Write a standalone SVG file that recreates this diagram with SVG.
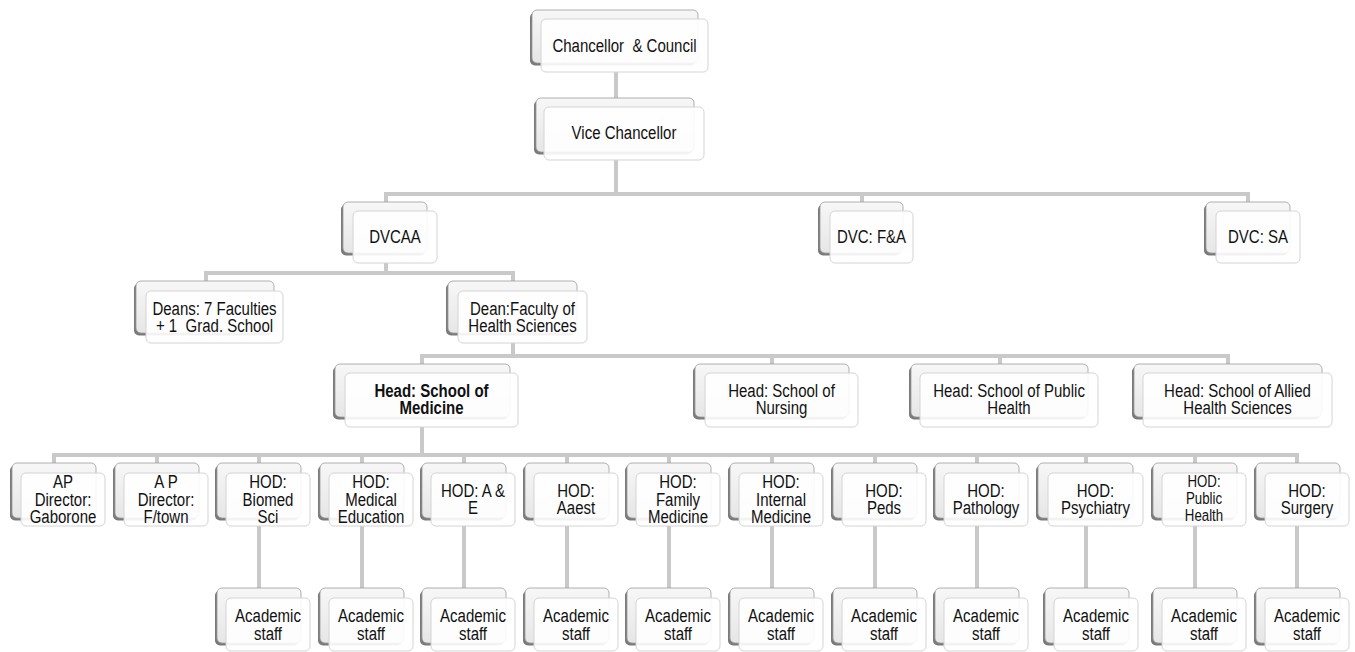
<svg xmlns="http://www.w3.org/2000/svg" width="1355" height="652" viewBox="0 0 1355 652">
<style>
.sh{fill:#7a7a7a}
.bk{fill:url(#gb);stroke:#9c9c9c;stroke-width:0.8}
.fr{fill:#ffffff;fill-opacity:0.9;stroke:#d4d4d4;stroke-width:1}
.t{font-family:"Liberation Sans",Arial,sans-serif;font-size:19px;fill:#111111;text-anchor:middle}
.b{font-weight:bold}
.s{font-size:17px}
.c{fill:none;stroke:#c9c9c9;stroke-width:4;stroke-linejoin:miter}
</style>
<defs>
<linearGradient id="gb" x1="0" y1="0" x2="0" y2="1">
<stop offset="0" stop-color="#f7f7f7"/>
<stop offset="1" stop-color="#e6e6e6"/>
</linearGradient>
</defs>
<rect width="1355" height="652" fill="#ffffff"/>
<g id="connectors">
<path class="c" d="M616,72 V98"/>
<path class="c" d="M616,160 V194"/>
<path class="c" d="M386,202 V194 H1248 V202"/>
<path class="c" d="M862,194 V202"/>
<path class="c" d="M386,263 V273"/>
<path class="c" d="M206,281 V273 H513 V281"/>
<path class="c" d="M513,343 V356"/>
<path class="c" d="M422,364 V356 H1228 V364"/>
<path class="c" d="M772,356 V364"/>
<path class="c" d="M1000,356 V364"/>
<path class="c" d="M422,427 V455"/>
<path class="c" d="M54,463 V455 H1297 V463"/>
<path class="c" d="M157,455 V463 M259,455 V463 M362,455 V463 M464,455 V463 M567,455 V463 M669,455 V463 M772,455 V463 M875,455 V463 M977,455 V463 M1086,455 V463 M1195,455 V463"/>
<path class="c" d="M259,526 V588 M362,526 V588 M464,526 V588 M567,526 V588 M669,526 V588 M772,526 V588 M875,526 V588 M977,526 V588 M1086,526 V588 M1195,526 V588 M1297,526 V588"/>
</g>
<g id="n-chancellor">
<rect class="sh" x="530" y="12.5" width="166" height="53" rx="5"/>
<rect class="bk" x="532" y="10" width="166" height="53" rx="5"/>
<rect class="fr" x="541" y="19" width="167" height="53" rx="5"/>
<text class="t" transform="translate(624.5,0) scale(0.79,1)"><tspan x="0" y="52">Chancellor&#160; &amp; Council</tspan></text>
</g>
<g id="n-vice">
<rect class="sh" x="534" y="100.5" width="158" height="54" rx="5"/>
<rect class="bk" x="536" y="98" width="158" height="54" rx="5"/>
<rect class="fr" x="544" y="107" width="160" height="53" rx="5"/>
<text class="t" transform="translate(624,0) scale(0.79,1)"><tspan x="0" y="139">Vice Chancellor</tspan></text>
</g>
<g id="n-dvcaa">
<rect class="sh" x="341" y="204.5" width="84" height="51" rx="5"/>
<rect class="bk" x="343" y="202" width="84" height="51" rx="5"/>
<rect class="fr" x="353" y="211" width="84" height="52" rx="5"/>
<text class="t" transform="translate(395,0) scale(0.79,1)"><tspan x="0" y="243.5">DVCAA</tspan></text>
</g>
<g id="n-dvcfa">
<rect class="sh" x="818" y="204.5" width="83" height="51" rx="5"/>
<rect class="bk" x="820" y="202" width="83" height="51" rx="5"/>
<rect class="fr" x="830" y="211" width="83" height="52" rx="5"/>
<text class="t" transform="translate(871.5,0) scale(0.79,1)"><tspan x="0" y="243.5">DVC: F&amp;A</tspan></text>
</g>
<g id="n-dvcsa">
<rect class="sh" x="1204" y="204.5" width="84" height="51" rx="5"/>
<rect class="bk" x="1206" y="202" width="84" height="51" rx="5"/>
<rect class="fr" x="1216" y="211" width="84" height="52" rx="5"/>
<text class="t" transform="translate(1258,0) scale(0.79,1)"><tspan x="0" y="243.5">DVC: SA</tspan></text>
</g>
<g id="n-deans">
<rect class="sh" x="134" y="283.5" width="138" height="52" rx="5"/>
<rect class="bk" x="136" y="281" width="138" height="52" rx="5"/>
<rect class="fr" x="146" y="291" width="137" height="52" rx="5"/>
<text class="t" transform="translate(214.5,0) scale(0.79,1)"><tspan x="0" y="315">Deans: 7 Faculties</tspan><tspan x="0" y="332">+ 1&#160; Grad. School</tspan></text>
</g>
<g id="n-deanfhs">
<rect class="sh" x="446" y="283.5" width="129" height="52" rx="5"/>
<rect class="bk" x="448" y="281" width="129" height="52" rx="5"/>
<rect class="fr" x="458" y="291" width="129" height="52" rx="5"/>
<text class="t" transform="translate(522.5,0) scale(0.79,1)"><tspan x="0" y="315">Dean:Faculty of</tspan><tspan x="0" y="332">Health Sciences</tspan></text>
</g>
<g id="n-medicine">
<rect class="sh" x="333" y="366.5" width="175" height="53" rx="5"/>
<rect class="bk" x="335" y="364" width="175" height="53" rx="5"/>
<rect class="fr" x="345" y="373" width="173" height="54" rx="5"/>
<text class="t b" transform="translate(431.5,0) scale(0.79,1)"><tspan x="0" y="397">Head: School of</tspan><tspan x="0" y="414.5">Medicine</tspan></text>
</g>
<g id="n-nursing">
<rect class="sh" x="693" y="366.5" width="154" height="53" rx="5"/>
<rect class="bk" x="695" y="364" width="154" height="53" rx="5"/>
<rect class="fr" x="705" y="373" width="153" height="54" rx="5"/>
<text class="t" transform="translate(781.5,0) scale(0.79,1)"><tspan x="0" y="397">Head: School of</tspan><tspan x="0" y="414.5">Nursing</tspan></text>
</g>
<g id="n-publichealth">
<rect class="sh" x="909" y="366.5" width="177" height="53" rx="5"/>
<rect class="bk" x="911" y="364" width="177" height="53" rx="5"/>
<rect class="fr" x="920" y="373" width="178" height="54" rx="5"/>
<text class="t" transform="translate(1009,0) scale(0.79,1)"><tspan x="0" y="397">Head: School of Public</tspan><tspan x="0" y="414.5">Health</tspan></text>
</g>
<g id="n-allied">
<rect class="sh" x="1132" y="366.5" width="188" height="53" rx="5"/>
<rect class="bk" x="1134" y="364" width="188" height="53" rx="5"/>
<rect class="fr" x="1143" y="373" width="189" height="54" rx="5"/>
<text class="t" transform="translate(1237.5,0) scale(0.79,1)"><tspan x="0" y="397">Head: School of Allied</tspan><tspan x="0" y="414.5">Health Sciences</tspan></text>
</g>
<g id="h-gaborone">
<rect class="sh" x="10" y="465.5" width="84" height="55" rx="5"/>
<rect class="bk" x="12" y="463" width="84" height="55" rx="5"/>
<rect class="fr" x="21" y="473" width="84" height="53" rx="5"/>
<text class="t" transform="translate(63,0) scale(0.79,1)"><tspan x="0" y="488">AP</tspan><tspan x="0" y="506">Director:</tspan><tspan x="0" y="523.5">Gaborone</tspan></text>
</g>
<g id="h-ftown">
<rect class="sh" x="113" y="465.5" width="84" height="55" rx="5"/>
<rect class="bk" x="115" y="463" width="84" height="55" rx="5"/>
<rect class="fr" x="124" y="473" width="84" height="53" rx="5"/>
<text class="t" transform="translate(166,0) scale(0.79,1)"><tspan x="0" y="488">A P</tspan><tspan x="0" y="506">Director:</tspan><tspan x="0" y="523.5">F/town</tspan></text>
</g>
<g id="h-biomed">
<rect class="sh" x="215" y="465.5" width="84" height="55" rx="5"/>
<rect class="bk" x="217" y="463" width="84" height="55" rx="5"/>
<rect class="fr" x="226" y="473" width="84" height="53" rx="5"/>
<text class="t" transform="translate(268,0) scale(0.79,1)"><tspan x="0" y="488">HOD:</tspan><tspan x="0" y="506">Biomed</tspan><tspan x="0" y="523.5">Sci</tspan></text>
</g>
<g id="h-mededu">
<rect class="sh" x="318" y="465.5" width="84" height="55" rx="5"/>
<rect class="bk" x="320" y="463" width="84" height="55" rx="5"/>
<rect class="fr" x="329" y="473" width="84" height="53" rx="5"/>
<text class="t" transform="translate(371,0) scale(0.79,1)"><tspan x="0" y="488">HOD:</tspan><tspan x="0" y="506">Medical</tspan><tspan x="0" y="523.5">Education</tspan></text>
</g>
<g id="h-ae">
<rect class="sh" x="420" y="465.5" width="84" height="55" rx="5"/>
<rect class="bk" x="422" y="463" width="84" height="55" rx="5"/>
<rect class="fr" x="431" y="473" width="84" height="53" rx="5"/>
<text class="t" transform="translate(473,0) scale(0.79,1)"><tspan x="0" y="497">HOD: A &amp;</tspan><tspan x="0" y="514.5">E</tspan></text>
</g>
<g id="h-aaest">
<rect class="sh" x="523" y="465.5" width="84" height="55" rx="5"/>
<rect class="bk" x="525" y="463" width="84" height="55" rx="5"/>
<rect class="fr" x="534" y="473" width="84" height="53" rx="5"/>
<text class="t" transform="translate(576,0) scale(0.79,1)"><tspan x="0" y="497">HOD:</tspan><tspan x="0" y="514.5">Aaest</tspan></text>
</g>
<g id="h-family">
<rect class="sh" x="625" y="465.5" width="84" height="55" rx="5"/>
<rect class="bk" x="627" y="463" width="84" height="55" rx="5"/>
<rect class="fr" x="636" y="473" width="84" height="53" rx="5"/>
<text class="t" transform="translate(678,0) scale(0.79,1)"><tspan x="0" y="488">HOD:</tspan><tspan x="0" y="506">Family</tspan><tspan x="0" y="523.5">Medicine</tspan></text>
</g>
<g id="h-internal">
<rect class="sh" x="728" y="465.5" width="84" height="55" rx="5"/>
<rect class="bk" x="730" y="463" width="84" height="55" rx="5"/>
<rect class="fr" x="739" y="473" width="84" height="53" rx="5"/>
<text class="t" transform="translate(781,0) scale(0.79,1)"><tspan x="0" y="488">HOD:</tspan><tspan x="0" y="506">Internal</tspan><tspan x="0" y="523.5">Medicine</tspan></text>
</g>
<g id="h-peds">
<rect class="sh" x="831" y="465.5" width="84" height="55" rx="5"/>
<rect class="bk" x="833" y="463" width="84" height="55" rx="5"/>
<rect class="fr" x="842" y="473" width="84" height="53" rx="5"/>
<text class="t" transform="translate(884,0) scale(0.79,1)"><tspan x="0" y="497">HOD:</tspan><tspan x="0" y="514.5">Peds</tspan></text>
</g>
<g id="h-pathology">
<rect class="sh" x="933" y="465.5" width="84" height="55" rx="5"/>
<rect class="bk" x="935" y="463" width="84" height="55" rx="5"/>
<rect class="fr" x="944" y="473" width="84" height="53" rx="5"/>
<text class="t" transform="translate(986,0) scale(0.79,1)"><tspan x="0" y="497">HOD:</tspan><tspan x="0" y="514.5">Pathology</tspan></text>
</g>
<g id="h-psychiatry">
<rect class="sh" x="1036" y="465.5" width="95" height="55" rx="5"/>
<rect class="bk" x="1038" y="463" width="95" height="55" rx="5"/>
<rect class="fr" x="1048" y="473" width="95" height="53" rx="5"/>
<text class="t" transform="translate(1095.5,0) scale(0.79,1)"><tspan x="0" y="497">HOD:</tspan><tspan x="0" y="514.5">Psychiatry</tspan></text>
</g>
<g id="h-publichealth">
<rect class="sh" x="1151" y="465.5" width="84" height="55" rx="5"/>
<rect class="bk" x="1153" y="463" width="84" height="55" rx="5"/>
<rect class="fr" x="1162" y="473" width="84" height="53" rx="5"/>
<text class="t s" transform="translate(1204,0) scale(0.78,1)"><tspan x="0" y="487.5">HOD:</tspan><tspan x="0" y="504.5">Public</tspan><tspan x="0" y="521">Health</tspan></text>
</g>
<g id="h-surgery">
<rect class="sh" x="1254" y="465.5" width="84" height="55" rx="5"/>
<rect class="bk" x="1256" y="463" width="84" height="55" rx="5"/>
<rect class="fr" x="1265" y="473" width="84" height="53" rx="5"/>
<text class="t" transform="translate(1307,0) scale(0.79,1)"><tspan x="0" y="497">HOD:</tspan><tspan x="0" y="514.5">Surgery</tspan></text>
</g>
<g id="a-biomed">
<rect class="sh" x="215" y="590.5" width="84" height="55" rx="5"/>
<rect class="bk" x="217" y="588" width="84" height="55" rx="5"/>
<rect class="fr" x="226" y="598" width="84" height="53" rx="5"/>
<text class="t" transform="translate(268,0) scale(0.79,1)"><tspan x="0" y="622.5">Academic</tspan><tspan x="0" y="640">staff</tspan></text>
</g>
<g id="a-mededu">
<rect class="sh" x="318" y="590.5" width="84" height="55" rx="5"/>
<rect class="bk" x="320" y="588" width="84" height="55" rx="5"/>
<rect class="fr" x="329" y="598" width="84" height="53" rx="5"/>
<text class="t" transform="translate(371,0) scale(0.79,1)"><tspan x="0" y="622.5">Academic</tspan><tspan x="0" y="640">staff</tspan></text>
</g>
<g id="a-ae">
<rect class="sh" x="420" y="590.5" width="84" height="55" rx="5"/>
<rect class="bk" x="422" y="588" width="84" height="55" rx="5"/>
<rect class="fr" x="431" y="598" width="84" height="53" rx="5"/>
<text class="t" transform="translate(473,0) scale(0.79,1)"><tspan x="0" y="622.5">Academic</tspan><tspan x="0" y="640">staff</tspan></text>
</g>
<g id="a-aaest">
<rect class="sh" x="523" y="590.5" width="84" height="55" rx="5"/>
<rect class="bk" x="525" y="588" width="84" height="55" rx="5"/>
<rect class="fr" x="534" y="598" width="84" height="53" rx="5"/>
<text class="t" transform="translate(576,0) scale(0.79,1)"><tspan x="0" y="622.5">Academic</tspan><tspan x="0" y="640">staff</tspan></text>
</g>
<g id="a-family">
<rect class="sh" x="625" y="590.5" width="84" height="55" rx="5"/>
<rect class="bk" x="627" y="588" width="84" height="55" rx="5"/>
<rect class="fr" x="636" y="598" width="84" height="53" rx="5"/>
<text class="t" transform="translate(678,0) scale(0.79,1)"><tspan x="0" y="622.5">Academic</tspan><tspan x="0" y="640">staff</tspan></text>
</g>
<g id="a-internal">
<rect class="sh" x="728" y="590.5" width="84" height="55" rx="5"/>
<rect class="bk" x="730" y="588" width="84" height="55" rx="5"/>
<rect class="fr" x="739" y="598" width="84" height="53" rx="5"/>
<text class="t" transform="translate(781,0) scale(0.79,1)"><tspan x="0" y="622.5">Academic</tspan><tspan x="0" y="640">staff</tspan></text>
</g>
<g id="a-peds">
<rect class="sh" x="831" y="590.5" width="84" height="55" rx="5"/>
<rect class="bk" x="833" y="588" width="84" height="55" rx="5"/>
<rect class="fr" x="842" y="598" width="84" height="53" rx="5"/>
<text class="t" transform="translate(884,0) scale(0.79,1)"><tspan x="0" y="622.5">Academic</tspan><tspan x="0" y="640">staff</tspan></text>
</g>
<g id="a-pathology">
<rect class="sh" x="933" y="590.5" width="84" height="55" rx="5"/>
<rect class="bk" x="935" y="588" width="84" height="55" rx="5"/>
<rect class="fr" x="944" y="598" width="84" height="53" rx="5"/>
<text class="t" transform="translate(986,0) scale(0.79,1)"><tspan x="0" y="622.5">Academic</tspan><tspan x="0" y="640">staff</tspan></text>
</g>
<g id="a-psychiatry">
<rect class="sh" x="1043" y="590.5" width="84" height="55" rx="5"/>
<rect class="bk" x="1045" y="588" width="84" height="55" rx="5"/>
<rect class="fr" x="1054" y="598" width="84" height="53" rx="5"/>
<text class="t" transform="translate(1096,0) scale(0.79,1)"><tspan x="0" y="622.5">Academic</tspan><tspan x="0" y="640">staff</tspan></text>
</g>
<g id="a-publichealth">
<rect class="sh" x="1151" y="590.5" width="84" height="55" rx="5"/>
<rect class="bk" x="1153" y="588" width="84" height="55" rx="5"/>
<rect class="fr" x="1162" y="598" width="84" height="53" rx="5"/>
<text class="t" transform="translate(1204,0) scale(0.79,1)"><tspan x="0" y="622.5">Academic</tspan><tspan x="0" y="640">staff</tspan></text>
</g>
<g id="a-surgery">
<rect class="sh" x="1254" y="590.5" width="84" height="55" rx="5"/>
<rect class="bk" x="1256" y="588" width="84" height="55" rx="5"/>
<rect class="fr" x="1265" y="598" width="84" height="53" rx="5"/>
<text class="t" transform="translate(1307,0) scale(0.79,1)"><tspan x="0" y="622.5">Academic</tspan><tspan x="0" y="640">staff</tspan></text>
</g>
</svg>
